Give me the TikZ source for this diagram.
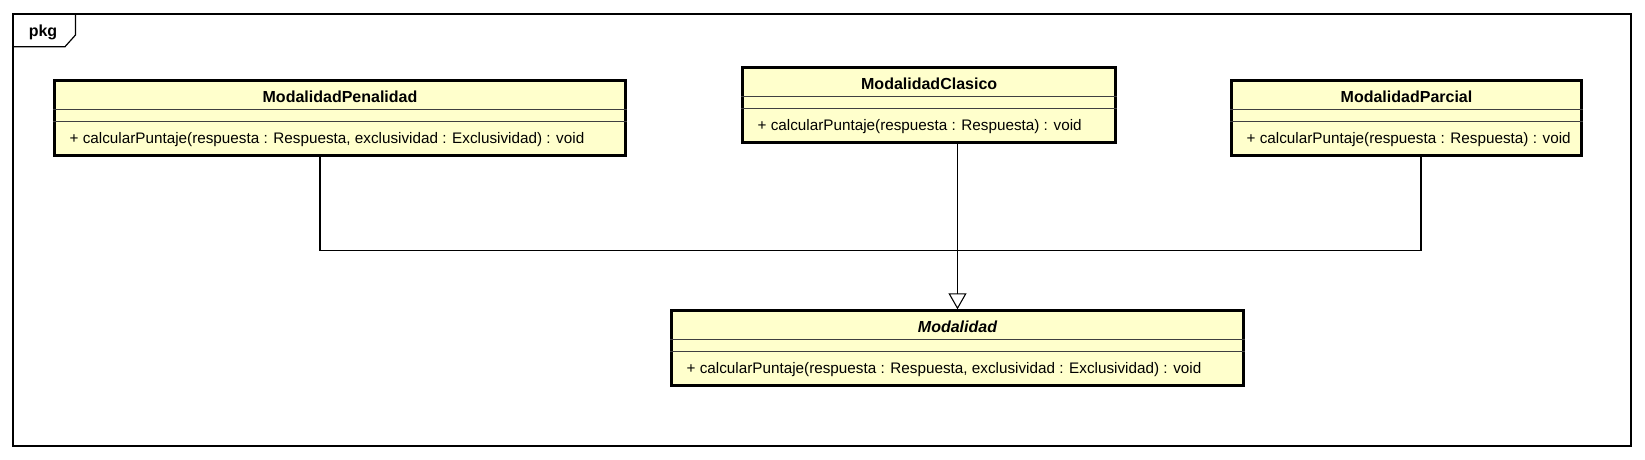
\documentclass[tikz,border=0pt]{standalone}
\usepackage{fontspec}
\setmainfont{Liberation Sans}
\usetikzlibrary{arrows.meta}
\definecolor{classfill}{RGB}{255,255,204}
\begin{document}
\begin{tikzpicture}[x=0.75pt,y=-0.75pt,
  classbox/.style={draw=black, line width=2.25pt, fill=classfill, rectangle, inner sep=0pt, outer sep=1.125pt, minimum height=55.8pt},
  sepline/.style={draw=black!75, line width=0.8pt},
  ctitle/.style={font=\fontsize{12}{14}\selectfont\bfseries, inner sep=0pt, anchor=center},
  member/.style={font=\fontsize{11.45}{13}\selectfont, inner sep=0pt, anchor=west},
  conn/.style={draw=black, line width=0.8pt},
  gen/.style={conn, -{Triangle[open, length=12pt, width=13.5pt, line width=0.8pt]}},
  pkgframe/.style={draw=black, line width=0.9pt}
]
\useasboundingbox (0,0) rectangle (1645,460);
% package frame
\draw[pkgframe] (13,14) rectangle (1631,446);
\draw[pkgframe] (13,46.7) -- (65,46.7) -- (75.5,35) -- (75.5,14);
\node[font=\fontsize{12}{14}\selectfont\bfseries, inner sep=0pt] (pkg) at (43,32.5) {pkg};

% class boxes
\node[classbox, minimum width=428.25pt] (pen) at (340,118) {};
\node[classbox, minimum width=280pt] (cla) at (929.15,105.15) {};
\node[classbox, minimum width=262.5pt] (par) at (1406.5,118) {};
\node[classbox, minimum width=429pt] (mod) at (957.5,348) {};

\foreach \n in {pen,cla,par,mod}{
  \draw[sepline] ([yshift=-22.875pt]\n.north west) -- ([yshift=-22.875pt]\n.north east);
  \draw[sepline] ([yshift=-31.5pt]\n.north west) -- ([yshift=-31.5pt]\n.north east);
}

\node[ctitle] (penT) at ([yshift=-12.9pt]pen.north) {ModalidadPenalidad};
\node[member] (penM) at ([xshift=12.3pt, yshift=-45pt]pen.north west) {+ calcularPuntaje(respuesta : Respuesta, exclusividad : Exclusividad) : void};

\node[ctitle] (claT) at ([yshift=-12.9pt]cla.north) {ModalidadClasico};
\node[member] (claM) at ([xshift=12.3pt, yshift=-45pt]cla.north west) {+ calcularPuntaje(respuesta : Respuesta) : void};

\node[ctitle] (parT) at ([yshift=-12.9pt]par.north) {ModalidadParcial};
\node[member] (parM) at ([xshift=12.3pt, yshift=-45pt]par.north west) {+ calcularPuntaje(respuesta : Respuesta) : void};

\node[ctitle, font=\fontsize{12}{14}\selectfont\bfseries\itshape] (modT) at ([yshift=-12.9pt]mod.north) {Modalidad};
\node[member] (modM) at ([xshift=12.3pt, yshift=-45pt]mod.north west) {+ calcularPuntaje(respuesta : Respuesta, exclusividad : Exclusividad) : void};

% generalization connectors
\coordinate (bus) at (957.5,250.5);
\draw[conn] ([xshift=-15pt]pen.south) |- (bus);
\draw[conn] ([xshift=10.875pt]par.south) |- (bus);
\draw[gen] (cla.south -| mod.north) -- (mod.north);
\end{tikzpicture}
\end{document}
